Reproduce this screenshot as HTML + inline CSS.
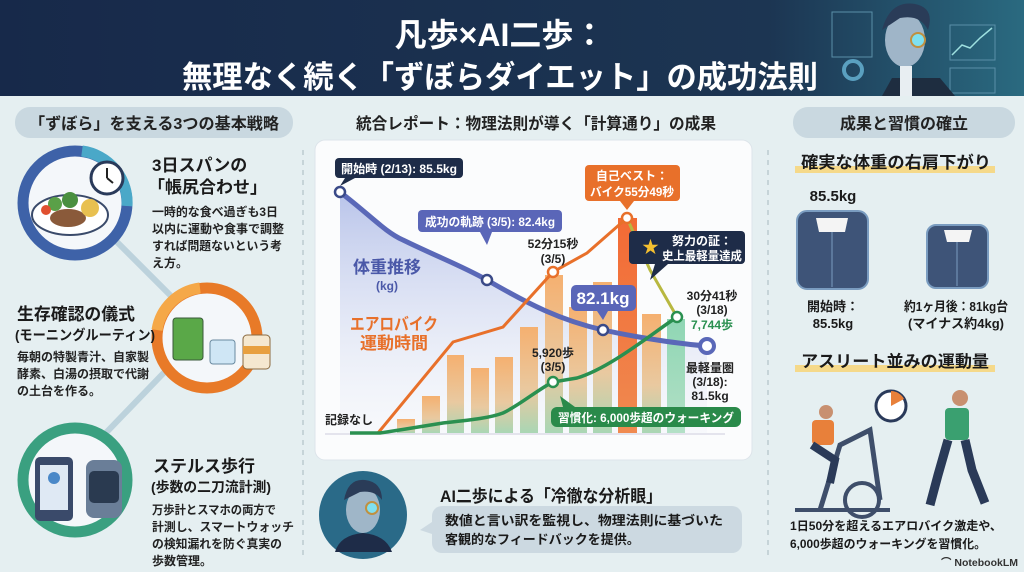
<!DOCTYPE html>
<html><head><meta charset="utf-8"><style>
html,body{margin:0;padding:0;width:1024px;height:572px;overflow:hidden;background:#e5eff1}
svg text{font-family:"Liberation Sans","Noto Sans CJK JP",sans-serif;font-weight:bold}
</style></head><body>
<svg width="1024" height="572" viewBox="0 0 1024 572" xmlns="http://www.w3.org/2000/svg">
<defs>
<linearGradient id="hdr" x1="0" x2="1" y1="0" y2="0"><stop offset="0" stop-color="#17294a"/><stop offset="0.75" stop-color="#1c3552"/><stop offset="1" stop-color="#2a6a80"/></linearGradient>
<linearGradient id="wfill" x1="0" x2="0" y1="0" y2="1"><stop offset="0" stop-color="#b9c4ea"/><stop offset="1" stop-color="#eef1f8" stop-opacity="0.3"/></linearGradient>
<linearGradient id="bar" x1="0" x2="0" y1="0" y2="1"><stop offset="0" stop-color="#f5b070"/><stop offset="0.6" stop-color="#e9c9a0"/><stop offset="1" stop-color="#a9d6b4"/></linearGradient>
<linearGradient id="bar10" x1="0" x2="0" y1="0" y2="1"><stop offset="0" stop-color="#f26a35"/><stop offset="1" stop-color="#f08a50"/></linearGradient>
<linearGradient id="barg" x1="0" x2="0" y1="0" y2="1"><stop offset="0" stop-color="#8fd6b4"/><stop offset="1" stop-color="#b3e0c6"/></linearGradient>
</defs>
<rect x="0" y="0" width="1024" height="96" fill="url(#hdr)"/>
<text x="500" y="46" font-size="32" fill="#fff" text-anchor="middle">凡歩×AI二歩：</text>
<text x="500" y="88" font-size="31" fill="#fff" text-anchor="middle" textLength="636" lengthAdjust="spacingAndGlyphs">無理なく続く「ずぼらダイエット」の成功法則</text>
<rect x="832" y="12" width="40" height="45" fill="none" stroke="#5a8fa8" stroke-width="1"/>
<rect x="950" y="25" width="45" height="35" fill="none" stroke="#5a8fa8" stroke-width="1"/>
<polyline points="952,55 962,45 970,48 980,38 992,28" fill="none" stroke="#9ee0e0" stroke-width="1.5"/>
<rect x="950" y="68" width="45" height="25" fill="none" stroke="#5a8fa8"/>
<circle cx="853" cy="70" r="9" fill="none" stroke="#5aa0c0" stroke-width="4"/>
<path d="M882,96 L892,78 L940,78 L955,96 Z" fill="#1e2d40"/>
<ellipse cx="905" cy="40" rx="20" ry="27" fill="#9fb5c8"/>
<path d="M882,30 Q890,0 915,4 Q935,8 928,30 Q920,14 900,18 Z" fill="#2a3c58"/>
<circle cx="918" cy="40" r="7" fill="#7fe0f0" stroke="#c09040" stroke-width="2"/>
<rect x="900" y="66" width="12" height="30" fill="#e8eef2"/>
<rect x="15" y="107" width="278" height="31" rx="15" fill="#c9d8e0"/>
<text x="154" y="129" font-size="16" fill="#222" text-anchor="middle" textLength="250" lengthAdjust="spacingAndGlyphs">「ずぼら」を支える3つの基本戦略</text>
<text x="536" y="129" font-size="16" fill="#222" text-anchor="middle" textLength="360" lengthAdjust="spacingAndGlyphs">統合レポート：物理法則が導く「計算通り」の成果</text>
<rect x="793" y="107" width="222" height="31" rx="15" fill="#c9d8e0"/>
<text x="904" y="129" font-size="16" fill="#222" text-anchor="middle">成果と習慣の確立</text>
<line x1="303" y1="150" x2="303" y2="555" stroke="#a8b8c0" stroke-dasharray="5,5"/>
<line x1="768" y1="150" x2="768" y2="555" stroke="#a8b8c0" stroke-dasharray="5,5"/>
<polyline points="75,200 205,330 75,465" fill="none" stroke="#bcd2dc" stroke-width="6"/>
<circle cx="75" cy="203" r="52" fill="#f4f7fa" stroke="#3e62a8" stroke-width="11"/>
<path d="M82,151 A52,52 0 0 1 127,206" fill="none" stroke="#4aa8c8" stroke-width="11"/>
<ellipse cx="70" cy="215" rx="38" ry="20" fill="#fff" stroke="#3a4a6a" stroke-width="2"/>
<ellipse cx="68" cy="218" rx="18" ry="9" fill="#8a5a3a"/>
<circle cx="55" cy="204" r="7" fill="#5aa048"/><circle cx="70" cy="200" r="8" fill="#4a9040"/><circle cx="90" cy="208" r="9" fill="#e8c050"/>
<circle cx="46" cy="210" r="5" fill="#e05030"/>
<circle cx="107" cy="178" r="16" fill="#fff" stroke="#2a3a5a" stroke-width="3"/>
<line x1="107" y1="178" x2="107" y2="168" stroke="#222" stroke-width="2"/><line x1="107" y1="178" x2="113" y2="183" stroke="#222" stroke-width="2"/>
<text x="152" y="171" font-size="17" fill="#1a1a1a">3日スパンの</text>
<text x="148" y="193" font-size="17" fill="#1a1a1a">「帳尻合わせ」</text>
<text font-size="12" fill="#222"><tspan x="152" y="216" textLength="126" lengthAdjust="spacingAndGlyphs">一時的な食べ過ぎも3日</tspan><tspan x="152" y="233" textLength="132" lengthAdjust="spacingAndGlyphs">以内に運動や食事で調整</tspan><tspan x="152" y="250" textLength="130" lengthAdjust="spacingAndGlyphs">すれば問題ないという考</tspan><tspan x="152" y="267">え方。</tspan></text>
<circle cx="207" cy="338" r="50" fill="#f4f7fa" stroke="#e87a28" stroke-width="11"/>
<path d="M200,288 A50,50 0 0 0 157,330" fill="none" stroke="#f5a848" stroke-width="11"/>
<rect x="173" y="318" width="30" height="42" rx="3" fill="#5aa848" stroke="#3a5a3a"/>
<rect x="210" y="340" width="25" height="24" rx="3" fill="#cfe6f5" stroke="#6a8aa0"/>
<rect x="243" y="335" width="27" height="34" rx="4" fill="#f5e8d0" stroke="#8a6a40"/>
<rect x="243" y="346" width="27" height="8" fill="#e8a040"/>
<text x="17" y="320" font-size="17" fill="#1a1a1a" textLength="118" lengthAdjust="spacingAndGlyphs">生存確認の儀式</text>
<text x="15" y="340" font-size="14" fill="#1a1a1a" textLength="140" lengthAdjust="spacingAndGlyphs">(モーニングルーティン)</text>
<text font-size="12" fill="#222"><tspan x="17" y="361" textLength="132" lengthAdjust="spacingAndGlyphs">毎朝の特製青汁、自家製</tspan><tspan x="17" y="378" textLength="132" lengthAdjust="spacingAndGlyphs">酵素、白湯の摂取で代謝</tspan><tspan x="17" y="395">の土台を作る。</tspan></text>
<circle cx="75" cy="480" r="52" fill="#f4f7fa" stroke="#3aa080" stroke-width="11"/>
<rect x="35" y="457" width="38" height="64" rx="5" fill="#3a4a6a"/><rect x="40" y="465" width="28" height="45" fill="#dfe9f4"/>
<circle cx="54" cy="478" r="6" fill="#4a88c8"/>
<rect x="86" y="460" width="36" height="58" rx="8" fill="#6a7e98"/><rect x="89" y="471" width="30" height="32" rx="5" fill="#2a3a50"/>
<text x="153" y="472" font-size="17" fill="#1a1a1a">ステルス歩行</text>
<text x="151" y="492" font-size="14" fill="#1a1a1a" textLength="120" lengthAdjust="spacingAndGlyphs">(歩数の二刀流計測)</text>
<text font-size="12" fill="#222"><tspan x="152" y="514" textLength="124" lengthAdjust="spacingAndGlyphs">万歩計とスマホの両方で</tspan><tspan x="152" y="531" textLength="142" lengthAdjust="spacingAndGlyphs">計測し、スマートウォッチ</tspan><tspan x="152" y="548" textLength="130" lengthAdjust="spacingAndGlyphs">の検知漏れを防ぐ真実の</tspan><tspan x="152" y="565">歩数管理。</tspan></text>
<rect x="315" y="140" width="437" height="320" rx="10" fill="#fbfcfd" stroke="#dde4ea"/>
<path d="M340,192 C370,215 385,232 403,240 C440,258 460,265 487,280 C530,305 560,320 603,330 C640,338 680,344 707,346 L707,433 L340,433 Z" fill="url(#wfill)"/>
<g>
<rect x="397" y="419" width="18" height="14" fill="url(#bar)"/>
<rect x="422" y="396" width="18" height="37" fill="url(#bar)"/>
<rect x="447" y="355" width="17" height="78" fill="url(#bar)"/>
<rect x="471" y="368" width="18" height="65" fill="url(#bar)"/>
<rect x="495" y="357" width="18" height="76" fill="url(#bar)"/>
<rect x="520" y="327" width="18" height="106" fill="url(#bar)"/>
<rect x="545" y="275" width="18" height="158" fill="url(#bar)"/>
<rect x="569" y="307" width="18" height="126" fill="url(#bar)"/>
<rect x="593" y="282" width="19" height="151" fill="url(#bar)"/>
<rect x="618" y="218" width="19" height="215" fill="url(#bar10)"/>
<rect x="642" y="314" width="19" height="119" fill="url(#bar)"/>
<rect x="667" y="319" width="18" height="114" fill="url(#barg)"/>
</g>
<line x1="325" y1="434" x2="725" y2="434" stroke="#ccd" />
<path d="M340,192 C370,215 385,232 403,240 C440,258 460,265 487,280 C530,305 560,320 603,330 C640,338 680,344 707,346" fill="none" stroke="#5a68b8" stroke-width="5"/>
<polyline points="378,433 453,342 503,327 553,272 587,253 627,218" fill="none" stroke="#e8702a" stroke-width="3"/>
<polyline points="627,218 650,270 677,317" fill="none" stroke="#b8b840" stroke-width="3"/>
<path d="M350,433 L380,433 C400,430 430,425 443,423 C470,420 490,418 503,413 C520,405 540,388 553,382 L577,378 C610,368 650,335 677,317" fill="none" stroke="#2a9050" stroke-width="3.5"/>
<g fill="#fff" stroke-width="2.5">
<circle cx="340" cy="192" r="5" stroke="#3a4a88"/><circle cx="487" cy="280" r="5" stroke="#3a4a88"/><circle cx="603" cy="330" r="5" stroke="#3a4a88"/>
<circle cx="707" cy="346" r="7" stroke="#5a68b8" stroke-width="4"/>
<circle cx="553" cy="272" r="5" stroke="#e8702a"/><circle cx="627" cy="218" r="5" stroke="#e8702a"/>
<circle cx="553" cy="382" r="5" stroke="#2a9050"/><circle cx="677" cy="317" r="5" stroke="#2a9050"/>
</g>
<rect x="335" y="158" width="128" height="20" rx="4" fill="#1e2c48"/><path d="M345,178 L340,186 L355,178Z" fill="#1e2c48"/>
<text x="341" y="173" font-size="12" fill="#fff" textLength="116" lengthAdjust="spacingAndGlyphs">開始時 (2/13): 85.5kg</text>
<rect x="418" y="210" width="144" height="22" rx="4" fill="#5a66b8"/><path d="M480,232 L487,245 L492,232Z" fill="#5a66b8"/>
<text x="425" y="226" font-size="12" fill="#fff" textLength="130" lengthAdjust="spacingAndGlyphs">成功の軌跡 (3/5): 82.4kg</text>
<rect x="585" y="165" width="95" height="36" rx="4" fill="#e8702a"/><path d="M620,201 L627,210 L634,201Z" fill="#e8702a"/>
<text x="632" y="180" font-size="12" fill="#fff" text-anchor="middle">自己ベスト：</text>
<text x="632" y="196" font-size="12" fill="#fff" text-anchor="middle" textLength="84" lengthAdjust="spacingAndGlyphs">バイク55分49秒</text>
<rect x="629" y="231" width="116" height="33" rx="4" fill="#1e2c48"/><path d="M655,264 L650,280 L668,264Z" fill="#1e2c48"/>
<text x="642" y="253" font-size="17" fill="#f5c030">★</text>
<text x="702" y="245" font-size="12" fill="#fff" text-anchor="middle">努力の証：</text>
<text x="702" y="260" font-size="12" fill="#fff" text-anchor="middle" textLength="80" lengthAdjust="spacingAndGlyphs">史上最軽量達成</text>
<rect x="571" y="285" width="65" height="26" rx="5" fill="#5a66b8"/><path d="M597,311 L603,320 L608,311Z" fill="#5a66b8"/>
<text x="603" y="304" font-size="17" fill="#fff" text-anchor="middle" font-weight="normal">82.1kg</text>
<rect x="551" y="407" width="190" height="20" rx="6" fill="#2a8a4a"/><path d="M563,407 L560,396 L575,407Z" fill="#2a8a4a"/>
<text x="646" y="422" font-size="12" fill="#fff" text-anchor="middle" textLength="176" lengthAdjust="spacingAndGlyphs">習慣化: 6,000歩超のウォーキング</text>
<text x="387" y="273" font-size="17" fill="#4a58a8" text-anchor="middle">体重推移</text>
<text x="387" y="290" font-size="12" fill="#4a58a8" text-anchor="middle">(kg)</text>
<text x="394" y="330" font-size="17" fill="#e8702a" text-anchor="middle" textLength="88" lengthAdjust="spacingAndGlyphs">エアロバイク</text>
<text x="394" y="349" font-size="17" fill="#e8702a" text-anchor="middle">運動時間</text>
<text x="553" y="248" font-size="12" fill="#222" text-anchor="middle">52分15秒</text>
<text x="553" y="263" font-size="12" fill="#222" text-anchor="middle">(3/5)</text>
<text x="553" y="357" font-size="12" fill="#222" text-anchor="middle">5,920歩</text>
<text x="553" y="371" font-size="12" fill="#222" text-anchor="middle">(3/5)</text>
<text x="712" y="300" font-size="12" fill="#222" text-anchor="middle">30分41秒</text>
<text x="712" y="314" font-size="12" fill="#222" text-anchor="middle">(3/18)</text>
<text x="712" y="329" font-size="12" fill="#2a9050" text-anchor="middle">7,744歩</text>
<text x="710" y="372" font-size="12" fill="#222" text-anchor="middle">最軽量圏</text>
<text x="710" y="386" font-size="12" fill="#222" text-anchor="middle">(3/18):</text>
<text x="710" y="400" font-size="12" fill="#222" text-anchor="middle">81.5kg</text>
<text x="325" y="424" font-size="12" fill="#222">記録なし</text>
<circle cx="363" cy="515" r="44" fill="#2a6a88"/>
<ellipse cx="363" cy="510" rx="17" ry="23" fill="#9fb6c8"/>
<path d="M344,500 Q348,478 365,480 Q382,482 382,500 Q375,490 360,492 Z" fill="#2a3c58"/>
<path d="M335,552 Q340,535 363,533 Q386,535 392,552 Z" fill="#1e2c48"/>
<circle cx="372" cy="508" r="6" fill="#7fe0f0" stroke="#c09040" stroke-width="2"/>
<text x="440" y="502" font-size="17" fill="#1a1a1a" textLength="222" lengthAdjust="spacingAndGlyphs">AI二歩による「冷徹な分析眼」</text>
<rect x="432" y="506" width="310" height="47" rx="10" fill="#ccd9e1"/>
<path d="M432,522 L420,530 L432,534Z" fill="#ccd9e1"/>
<text font-size="13" fill="#1a1a1a"><tspan x="445" y="525" textLength="278" lengthAdjust="spacingAndGlyphs">数値と言い訳を監視し、物理法則に基づいた</tspan><tspan x="445" y="544">客観的なフィードバックを提供。</tspan></text>
<rect x="795" y="166" width="200" height="7" fill="#f5d98a"/>
<text x="896" y="168" font-size="16.5" fill="#1a1a1a" text-anchor="middle" textLength="190" lengthAdjust="spacingAndGlyphs">確実な体重の右肩下がり</text>
<text x="833" y="201" font-size="15" fill="#1a1a1a" text-anchor="middle">85.5kg</text>
<rect x="797" y="211" width="71" height="78" rx="10" fill="#3e5478" stroke="#7a9cc0" stroke-width="2"/>
<path d="M816,218 L848,218 L845,232 L819,232Z" fill="#f4f4f4"/><line x1="832" y1="232" x2="832" y2="287" stroke="#7a9cc0"/>
<rect x="927" y="225" width="61" height="63" rx="9" fill="#3e5478" stroke="#7a9cc0" stroke-width="2"/>
<path d="M944,230 L972,230 L969,242 L947,242Z" fill="#f4f4f4"/><line x1="957" y1="242" x2="957" y2="286" stroke="#7a9cc0"/>
<text x="833" y="311" font-size="13" fill="#1a1a1a" text-anchor="middle">開始時：</text>
<text x="833" y="328" font-size="13" fill="#1a1a1a" text-anchor="middle">85.5kg</text>
<text x="956" y="311" font-size="13" fill="#1a1a1a" text-anchor="middle" textLength="104" lengthAdjust="spacingAndGlyphs">約1ヶ月後：81kg台</text>
<text x="956" y="328" font-size="13" fill="#1a1a1a" text-anchor="middle" textLength="96" lengthAdjust="spacingAndGlyphs">(マイナス約4kg)</text>
<rect x="795" y="365" width="200" height="7" fill="#f5d98a"/>
<text x="895" y="367" font-size="16.5" fill="#1a1a1a" text-anchor="middle" textLength="188" lengthAdjust="spacingAndGlyphs">アスリート並みの運動量</text>
<circle cx="891" cy="406" r="15" fill="#fff" stroke="#2a3a5a" stroke-width="3"/>
<path d="M891,406 L891,391 A15,15 0 0 1 904,399Z" fill="#e8803a"/>
<circle cx="862" cy="500" r="17" fill="none" stroke="#3e4e6a" stroke-width="4"/>
<polyline points="820,510 840,445 870,430 880,500" fill="none" stroke="#3e4e6a" stroke-width="5"/>
<line x1="795" y1="510" x2="890" y2="510" stroke="#3e4e6a" stroke-width="4"/>
<rect x="812" y="420" width="22" height="25" rx="4" fill="#e8803a"/>
<circle cx="826" cy="412" r="7" fill="#c89070"/>
<path d="M812,445 L835,460 L830,483" fill="none" stroke="#2a3a58" stroke-width="8"/>
<circle cx="960" cy="398" r="8" fill="#c89070"/>
<rect x="945" y="408" width="24" height="32" rx="4" fill="#3aa070"/>
<path d="M948,440 L938,475 L930,505 M965,440 L972,470 L985,503" fill="none" stroke="#2a3a58" stroke-width="9"/>
<text font-size="12" fill="#1a1a1a"><tspan x="790" y="530" textLength="212" lengthAdjust="spacingAndGlyphs">1日50分を超えるエアロバイク激走や、</tspan><tspan x="790" y="548" textLength="196" lengthAdjust="spacingAndGlyphs">6,000歩超のウォーキングを習慣化。</tspan></text>
<text x="1018" y="566" font-size="10.5" fill="#333" text-anchor="end" font-weight="normal">⌒ NotebookLM</text>
</svg>
</body></html>
